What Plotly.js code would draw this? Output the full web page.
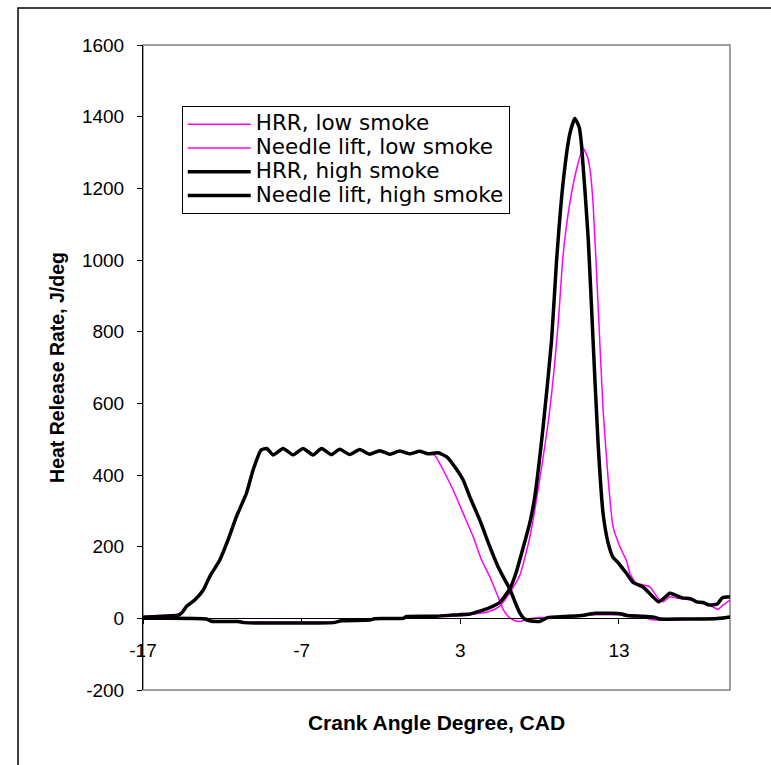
<!DOCTYPE html>
<html>
<head>
<meta charset="utf-8">
<script src="https://cdn.plot.ly/plotly-3.0.1.min.js"></script>
<style>
  html, body { margin: 0; padding: 0; background: #fff; }
  #chart { width: 771px; height: 765px; }
</style>
</head>
<body>
<div id="chart"></div>
<script>
// ---- Data ----
var seriesNames = ["HRR, low smoke", "Needle lift, low smoke", "HRR, high smoke", "Needle lift, high smoke"];

var hrrLowX = [-17, -13, -12.7, -11, -10.6, -5, -4.5, -2.7, -2.4, -0.6, -0.4, 1.5, 2.5, 3.6, 4.23, 4.86, 5.49, 6.1, 6.75, 7.38, 8.01, 8.64, 9.17, 9.48, 9.9, 10.33, 10.74, 11.0, 11.17, 11.37, 11.69, 12.0, 12.32, 12.63, 13.06, 13.48, 13.69, 14.1, 14.95, 15.47, 15.8, 16.2, 16.63, 17.3, 18.1, 18.5, 19.25, 19.5, 20];
var hrrLowY = [2, 0, -6, -8, -10, -10, -6, -4, 0, 1, 4, 5, 6, 10, 14, 20, 34, 70, 120, 226, 389, 582, 822, 1014, 1158, 1254, 1312, 1290, 1254, 1158, 870, 582, 389, 255, 200, 160, 125, 98, 88, 56, 46, 60, 57, 53, 46, 43, 25, 35, 51];

var needleLowX = [-17, -16, -15.2, -14.8, -14.5, -14.26, -13.74, -13.2, -12.8, -12.16, -11.64, -11.11, -10.48, -10.06, -9.55, -9.2, -8.8, -8.17, -7.54, -6.91, -6.28, -5.75, -5.12, -4.6, -3.97, -3.34, -2.71, -2.08, -1.45, -0.82, -0.2, 0.44, 0.97, 1.39, 1.92, 2.55, 3.18, 3.81, 4.34, 4.86, 5.38, 5.7, 6.02, 6.4, 6.75, 7.2, 8, 9, 10, 11, 12, 13, 13.5, 14.5, 15, 16, 17, 18, 19, 20];
var needleLowY = [6, 8, 10, 12, 18, 33, 51, 79, 116, 163, 219, 284, 349, 414, 472, 474, 456, 475, 456, 474, 456, 474, 457, 472, 457, 471, 458, 468, 458, 467, 459, 466, 459, 455, 414, 358, 293, 228, 163, 116, 60, 25, 5, -6, -9, -3, 2, 3, 4, 10, 10, 10, 5, 3, -3, -5, -4, 0, 1, 5];

var hrrHighX = [-17, -13, -12.7, -11, -10.6, -5, -4.5, -2.7, -2.4, -0.6, -0.4, 1.5, 2.5, 3.6, 4.23, 4.86, 5.5, 6.12, 6.5, 6.96, 7.4, 7.7, 8.22, 8.75, 9.07, 9.48, 9.9, 10.22, 10.5, 10.64, 11.06, 11.37, 11.69, 12.0, 12.32, 12.63, 12.9, 13.48, 13.9, 14.5, 15.1, 15.5, 15.8, 16.2, 16.5, 17.0, 17.5, 17.9, 18.3, 18.7, 19.2, 19.5, 20];
var hrrHighY = [0, -2, -8, -9, -12, -12, -7, -5, -1, 0, 5, 6, 9, 12, 20, 30, 45, 82, 125, 197, 270, 341, 534, 774, 1000, 1216, 1351, 1395, 1370, 1322, 1062, 774, 485, 293, 210, 170, 158, 125, 100, 88, 62, 46, 55, 70, 66, 57, 55, 46, 44, 37, 40, 57, 60];

var needleHighX = [-17, -16, -15.2, -14.8, -14.5, -14.26, -13.74, -13.2, -12.8, -12.16, -11.64, -11.11, -10.48, -10.06, -9.55, -9.2, -8.8, -8.17, -7.54, -6.91, -6.28, -5.75, -5.12, -4.6, -3.97, -3.34, -2.71, -2.08, -1.45, -0.82, -0.2, 0.44, 0.97, 1.6, 2.13, 2.65, 3.18, 3.6, 4.23, 4.86, 5.38, 5.8, 6.12, 6.5, 6.75, 7.0, 7.3, 8.0, 8.5, 9.5, 10.5, 11.5, 12.5, 13.1, 13.5, 14.5, 15.2, 15.6, 17, 18.5, 19.4, 20];
var needleHighY = [3, 5, 7, 8, 18, 33, 51, 79, 116, 163, 219, 284, 349, 414, 470, 474, 456, 474, 456, 474, 456, 474, 457, 472, 457, 471, 458, 468, 458, 467, 459, 466, 459, 462, 451, 423, 386, 339, 274, 200, 144, 108, 82, 40, 15, 0, -6, -9, 2, 5, 7, 14, 14, 13, 8, 6, 3, -2, -2, -2, 0, 4];

var xTickVals = [-17, -7, 3, 13];
var xTickText = ["-17", "-7", "3", "13"];
var yTickVals = [-200, 0, 200, 400, 600, 800, 1000, 1200, 1400, 1600];
var yTickText = ["-200", "0", "200", "400", "600", "800", "1000", "1200", "1400", "1600"];

// ---- Styles ----
var FONT = 'Arial, "Liberation Sans", sans-serif';
var lowColor = '#FF00FF';
var highColor = '#000000';

// legend rows are tightly packed (row pitch from legend.font.size) while the
// visible legend text is larger, as in the reference
function legendLabel(s) {
  return '<span style="font-family:\'DejaVu Sans\', Verdana, sans-serif; font-size:21.5px">' + s + '</span>';
}

var traces = [
  {x: hrrLowX, y: hrrLowY, name: legendLabel(seriesNames[0]), type: 'scatter', mode: 'lines',
   line: {color: lowColor, width: 1.5, shape: 'spline', smoothing: 0.5}},
  {x: needleLowX, y: needleLowY, name: legendLabel(seriesNames[1]), type: 'scatter', mode: 'lines',
   line: {color: lowColor, width: 1.5, shape: 'spline', smoothing: 0.5}},
  {x: hrrHighX, y: hrrHighY, name: legendLabel(seriesNames[2]), type: 'scatter', mode: 'lines',
   line: {color: highColor, width: 3.5, shape: 'spline', smoothing: 0.5}},
  {x: needleHighX, y: needleHighY, name: legendLabel(seriesNames[3]), type: 'scatter', mode: 'lines',
   line: {color: highColor, width: 3.5, shape: 'spline', smoothing: 0.5}}
];

var yZeroFrac = (0 - (-200)) / (1600 - (-200));

var layout = {
  width: 771, height: 765,
  margin: {l: 143, r: 41, t: 45, b: 75, pad: 0},
  paper_bgcolor: '#ffffff', plot_bgcolor: '#ffffff',
  font: {family: FONT, color: '#000'},
  showlegend: true,
  legend: {
    x: 0.066, y: 0.905, xanchor: 'left', yanchor: 'top',
    bgcolor: '#ffffff', bordercolor: '#000000', borderwidth: 1,
    font: {family: '"DejaVu Sans", Verdana, sans-serif', size: 16, color: '#000'},
    itemwidth: 63, tracegroupgap: 0
  },
  xaxis: {
    range: [-17, 20], autorange: false,
    anchor: 'free', position: yZeroFrac,
    tickmode: 'array', tickvals: xTickVals, ticktext: xTickText,
    ticks: 'outside', ticklen: 5, tickcolor: '#000', tickwidth: 1,
    showline: true, linecolor: '#000', linewidth: 1,
    showgrid: false, zeroline: false,
    tickfont: {family: FONT, size: 19, color: '#000'},
    ticklabelstandoff: 10,
    title: {text: 'Crank Angle Degree, CAD', font: {family: FONT, size: 21, color: '#000', weight: 'bold'}, standoff: 55}
  },
  yaxis: {
    range: [-200, 1600], autorange: false,
    tickmode: 'array', tickvals: yTickVals, ticktext: yTickText,
    ticks: 'outside', ticklen: 5, tickcolor: '#000', tickwidth: 1,
    showline: true, linecolor: '#000', linewidth: 1,
    showgrid: false, zeroline: false,
    tickfont: {family: FONT, size: 19, color: '#000'},
    ticklabelstandoff: 9,
    title: {text: 'Heat Release Rate, J/deg', font: {family: FONT, size: 19.5, color: '#000', weight: 'bold'}, standoff: 12}
  },
  shapes: [
    // plot-area border (gray)
    {type: 'rect', xref: 'paper', yref: 'paper', x0: 0, x1: 1, y0: 0, y1: 1,
     line: {color: '#808080', width: 1.5}, fillcolor: 'rgba(0,0,0,0)', layer: 'below'},
    // chart-area border
    {type: 'rect', xref: 'paper', yref: 'paper', x0: -0.2129, x1: 1.08, y0: -0.13, y1: 1.0574,
     line: {color: '#000000', width: 1.5}, fillcolor: 'rgba(0,0,0,0)', layer: 'below'}
  ]
};

Plotly.newPlot('chart', traces, layout, {displayModeBar: false, staticPlot: true});
</script>
</body>
</html>
